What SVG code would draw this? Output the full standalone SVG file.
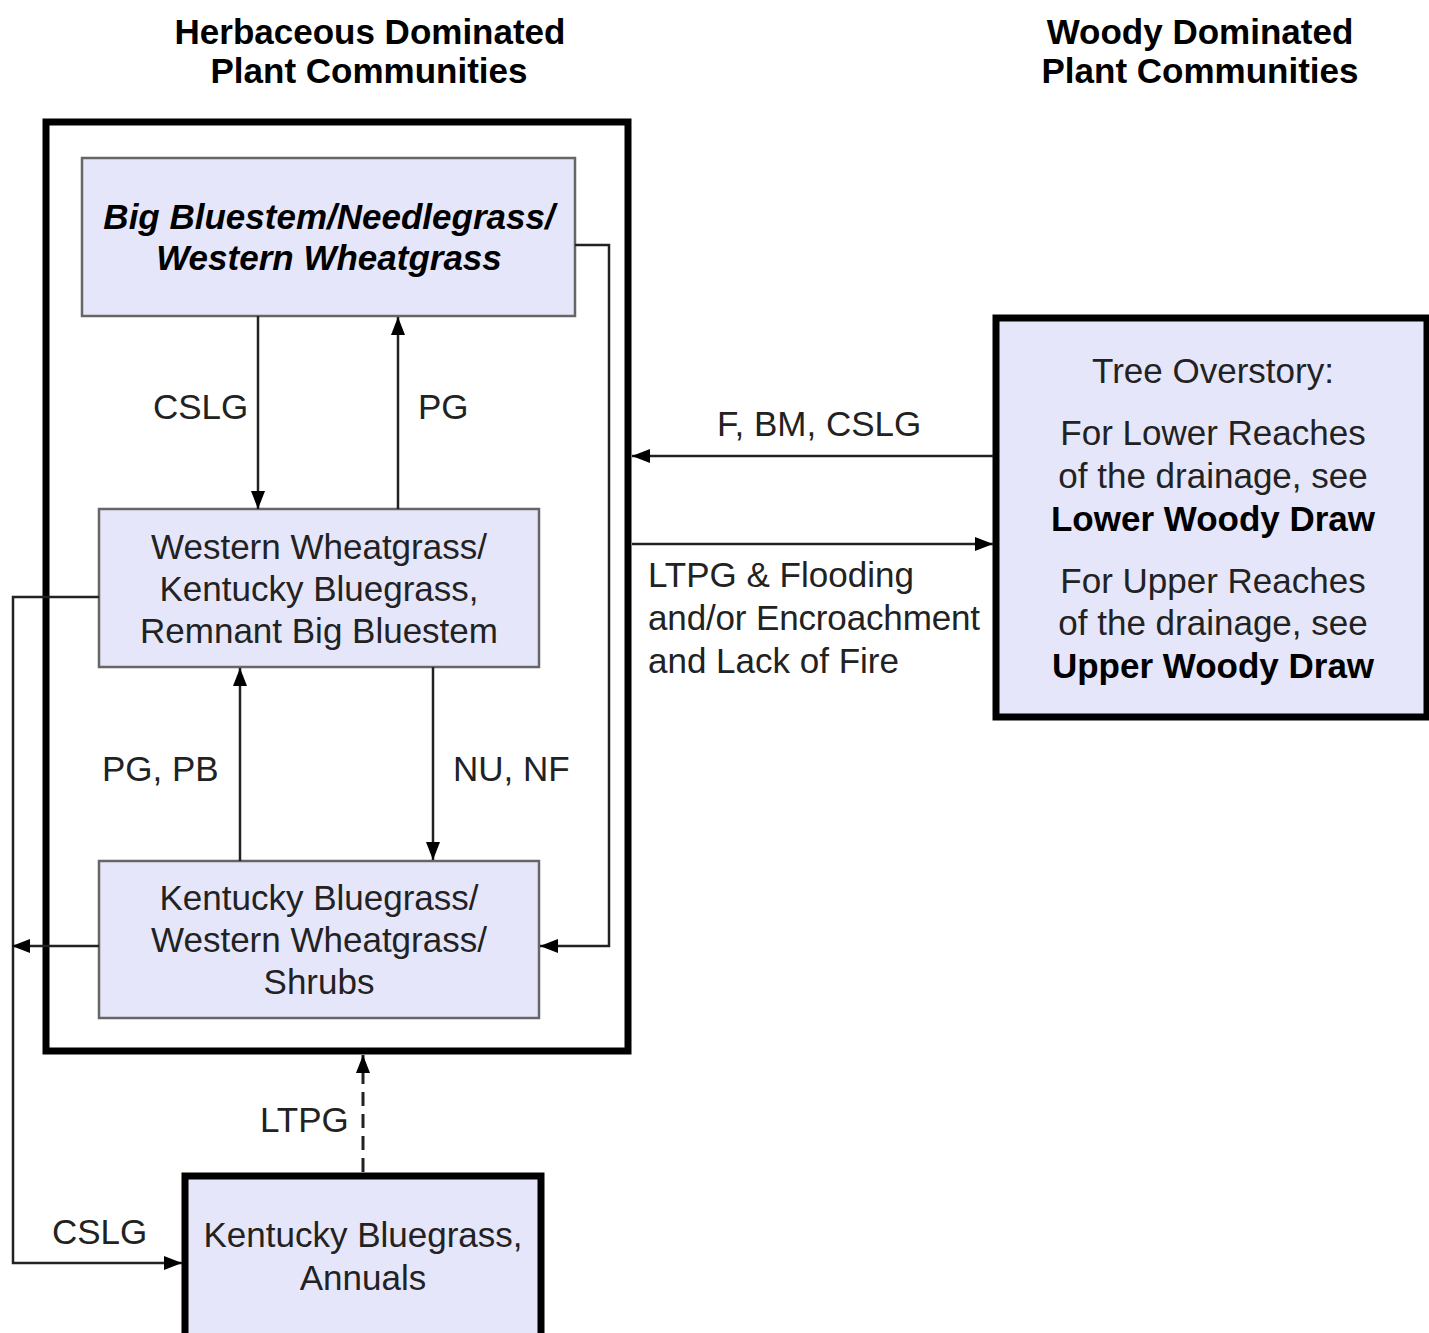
<svg xmlns="http://www.w3.org/2000/svg" width="1429" height="1333" viewBox="0 0 1429 1333">
<style>
.t{font-family:"Liberation Sans",Arial,sans-serif;font-size:35px;fill:#222}
.c{text-anchor:middle}
.b{font-weight:bold;fill:#000}
.bi{font-weight:bold;font-style:italic;fill:#000}
.box{fill:#e6e6fa;stroke:#666;stroke-width:2.5}
.tbox{fill:#e6e6fa;stroke:#000;stroke-width:7}
.ln{fill:none;stroke:#222;stroke-width:2.5}
.dash{stroke-width:3;stroke-dasharray:14 8}
</style>
<defs>
<marker id="ah" viewBox="0 0 18 14" refX="18" refY="7" markerWidth="18" markerHeight="14" markerUnits="userSpaceOnUse" orient="auto">
<path d="M0,0 L18,7 L0,14 Z" fill="#000"/>
</marker>
</defs>
<rect width="1429" height="1333" fill="#fff"/>
<g id="headers">
<text class="t b c" x="370" y="44">Herbaceous Dominated</text>
<text class="t b c" x="369" y="83">Plant Communities</text>
<text class="t b c" x="1200" y="44">Woody Dominated</text>
<text class="t b c" x="1200" y="83">Plant Communities</text>
</g>
<g id="herbaceous-group">
<rect x="46" y="122" width="582" height="929" fill="none" stroke="#000" stroke-width="7"/>
</g>
<g id="node-big-bluestem">
<rect class="box" x="82" y="158" width="493" height="158"/>
<text class="t bi c" x="329" y="229">Big Bluestem/Needlegrass/</text>
<text class="t bi c" x="329" y="270">Western Wheatgrass</text>
</g>
<g id="node-western-wheatgrass">
<rect class="box" x="99" y="509" width="440" height="158"/>
<text class="t c" x="319" y="559">Western Wheatgrass/</text>
<text class="t c" x="319" y="601">Kentucky Bluegrass,</text>
<text class="t c" x="319" y="643">Remnant Big Bluestem</text>
</g>
<g id="node-kentucky-shrubs">
<rect class="box" x="99" y="861" width="440" height="157"/>
<text class="t c" x="319" y="910">Kentucky Bluegrass/</text>
<text class="t c" x="319" y="952">Western Wheatgrass/</text>
<text class="t c" x="319" y="994">Shrubs</text>
</g>
<g id="node-kentucky-annuals">
<rect class="tbox" x="185" y="1176" width="356" height="170"/>
<text class="t c" x="363" y="1247">Kentucky Bluegrass,</text>
<text class="t c" x="363" y="1290">Annuals</text>
</g>
<g id="node-tree-overstory">
<rect class="tbox" x="996" y="318" width="431" height="399"/>
<text class="t c" x="1213" y="383">Tree Overstory:</text>
<text class="t c" x="1213" y="445">For Lower Reaches</text>
<text class="t c" x="1213" y="488">of the drainage, see</text>
<text class="t b c" x="1213" y="531">Lower Woody Draw</text>
<text class="t c" x="1213" y="593">For Upper Reaches</text>
<text class="t c" x="1213" y="635">of the drainage, see</text>
<text class="t b c" x="1213" y="678">Upper Woody Draw</text>
</g>
<g id="connectors">
<path class="ln" d="M258,316 V509" marker-end="url(#ah)"/>
<path class="ln" d="M398,509 V317" marker-end="url(#ah)"/>
<path class="ln" d="M240,861 V668" marker-end="url(#ah)"/>
<path class="ln" d="M433,667 V860" marker-end="url(#ah)"/>
<path class="ln" d="M575,245 H609 V946 H540" marker-end="url(#ah)"/>
<path class="ln" d="M99,597 H13 V1263 H182" marker-end="url(#ah)"/>
<path class="ln" d="M99,946 H12" marker-end="url(#ah)"/>
<path class="ln" d="M993,456 H632" marker-end="url(#ah)"/>
<path class="ln" d="M632,544 H993" marker-end="url(#ah)"/>
<path class="ln dash" d="M363,1172 V1055" marker-end="url(#ah)"/>
<text class="t" x="153" y="419">CSLG</text>
<text class="t" x="418" y="419">PG</text>
<text class="t" x="102" y="781">PG, PB</text>
<text class="t" x="453" y="781">NU, NF</text>
<text class="t" x="717" y="436">F, BM, CSLG</text>
<text class="t" x="648" y="587">LTPG &amp; Flooding</text>
<text class="t" x="648" y="630" textLength="332">and/or Encroachment</text>
<text class="t" x="648" y="673">and Lack of Fire</text>
<text class="t" x="260" y="1132">LTPG</text>
<text class="t" x="52" y="1244">CSLG</text>
</g>
</svg>
